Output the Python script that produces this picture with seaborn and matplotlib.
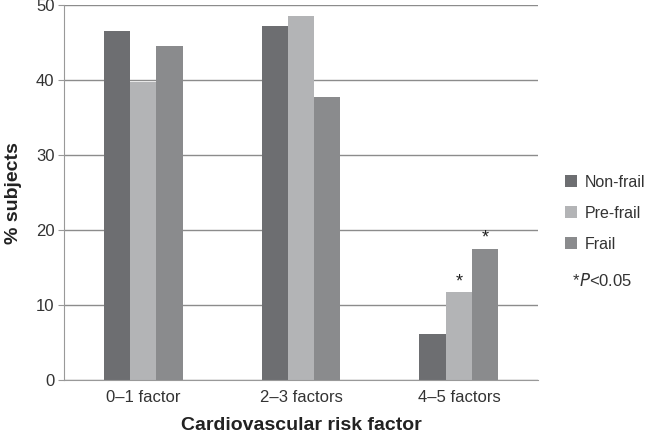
import pandas as pd
import matplotlib.pyplot as plt
import seaborn as sns
from matplotlib.patches import Patch

categories = ['0–1 factor', '2–3 factors', '4–5 factors']
groups = ['Non-frail', 'Pre-frail', 'Frail']
non_frail = [46.5, 47.2, 6.2]
pre_frail = [39.7, 48.5, 11.7]
frail = [44.6, 37.8, 17.5]
colors = ['#6d6e71', '#b3b4b6', '#8a8b8d']

rows = []
for name, vals in zip(groups, [non_frail, pre_frail, frail]):
    for cat, v in zip(categories, vals):
        rows.append({'category': cat, 'group': name, 'value': v})
df = pd.DataFrame(rows)

sns.set_style('white')
plt.rcParams['font.family'] = ['Liberation Sans', 'DejaVu Sans']

fig = plt.figure(figsize=(6.48, 4.36), dpi=100)
ax = fig.add_axes([0.099, 0.128, 0.731, 0.86])

sns.barplot(data=df, x='category', y='value', hue='group', order=categories,
            hue_order=groups, palette=colors, width=0.5, saturation=1,
            edgecolor='none', linewidth=0, ax=ax, legend=False)

ax.set_ylim(0, 50)
ax.set_yticks(range(0, 51, 10))
ax.yaxis.grid(True, color='#8c8c8c', linewidth=1)
ax.set_axisbelow(True)
for s in ['top', 'right']:
    ax.spines[s].set_visible(False)
ax.spines['left'].set_color('#999999')
ax.spines['bottom'].set_color('#999999')
ax.tick_params(axis='y', length=4, color='#999999', labelsize=12, labelcolor='#333333', pad=3, left=True)
ax.tick_params(axis='x', length=0, labelsize=12, labelcolor='#333333', pad=7)
ax.set_xlabel('Cardiovascular risk factor', fontsize=14, fontweight='bold', labelpad=9, color='#222222')
ax.set_ylabel('% subjects', fontsize=14, fontweight='bold', labelpad=10, color='#222222')

# significance stars over the 4-5 factors bars
for cont, name in zip(ax.containers, groups):
    if name == 'Non-frail':
        continue
    bar = cont.patches[2]
    ax.text(bar.get_x() + bar.get_width() / 2, bar.get_height() + 0.3, '*',
            ha='center', va='bottom', fontsize=13, color='#222222')

handles = [Patch(facecolor=c, edgecolor='none') for c in colors]
fig.legend(handles, groups, loc='upper left', bbox_to_anchor=(0.862, 0.614),
           frameon=False, fontsize=11.5, handlelength=0.78, handleheight=0.78,
           handletextpad=0.45, labelspacing=1.0, labelcolor='#333333',
           borderaxespad=0, borderpad=0.4)
fig.text(0.884, 0.357, '*', fontsize=12, color='#333333', va='center')
fig.text(0.894, 0.357, '$\\it{P}$<0.05', fontsize=12, color='#333333', va='center')

plt.savefig('out.png', dpi=100)
plt.close()
